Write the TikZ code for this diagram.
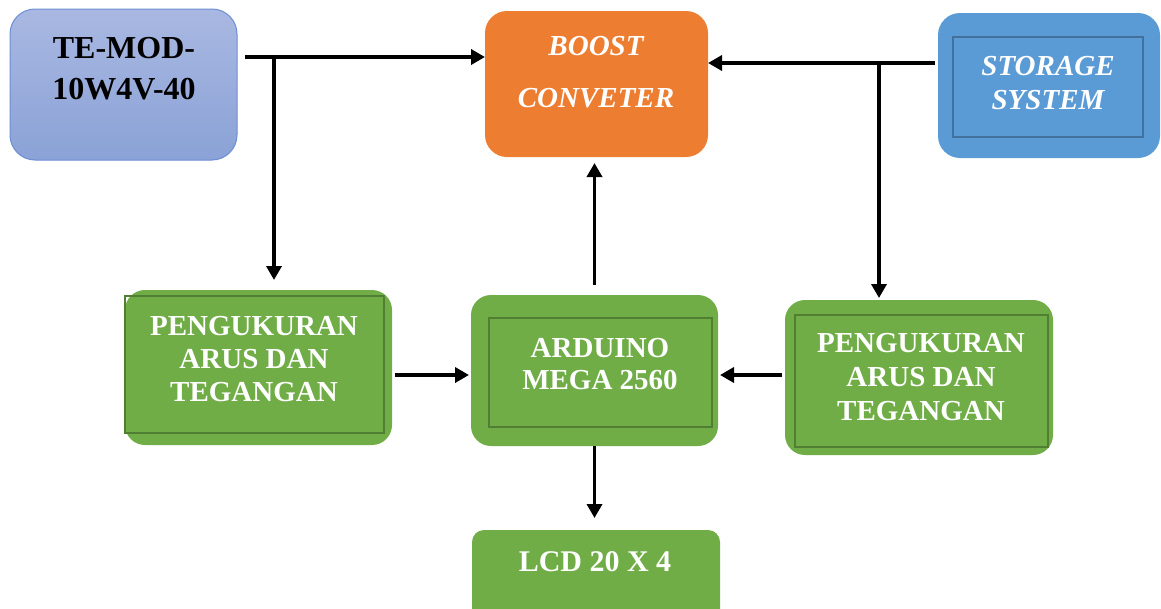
\documentclass[tikz,border=0pt]{standalone}
\usepackage{fontspec}
\setmainfont{Liberation Serif}
\usetikzlibrary{arrows.meta}
\definecolor{pvtop}{HTML}{A9B8E2}
\definecolor{pvbottom}{HTML}{8AA2D6}
\definecolor{pvline}{HTML}{6C8ED3}
\definecolor{boostorange}{HTML}{ED7D31}
\definecolor{storeblue}{HTML}{5B9BD5}
\definecolor{storeline}{HTML}{41719C}
\definecolor{ctrlgreen}{HTML}{70AD47}
\definecolor{ctrlline}{HTML}{507E32}
\tikzset{outerbox/.style={rounded corners=20pt, inner sep=0pt, outer sep=0pt},
innerbox/.style={draw=ctrlline, line width=2pt, inner sep=0pt},
%white bold caption, 29pt
lbl/.style={font=\fontsize{29}{33}\selectfont\bfseries, text=white, align=center},
arr/.style={line width=3.6pt, -{Triangle[length=14pt,width=15pt]}}}

\begin{document}
\begin{tikzpicture}[x=1pt,y=-1pt]
\useasboundingbox (0,0) rectangle (1161,608);
% top row
\node[outerbox, rounded corners=25pt, top color=pvtop, bottom color=pvbottom, draw=pvline, line width=1pt, minimum width=227pt, minimum height=151pt] (temod) at (123.5,84.5) {};
\node[lbl, text=black, font=\fontsize{32}{41}\selectfont\bfseries] (temodtxt) at (124,68.5) {TE-MOD-\\10W4V-40};

\node[outerbox, rounded corners=22pt, fill=boostorange, minimum width=223pt, minimum height=146pt] (boost) at (596.5,84) {};
\node[lbl, font=\fontsize{29}{33}\selectfont\bfseries\itshape] (boosttxt) at (596,72) {BOOST\\[19pt]CONVETER};

\node[outerbox, rounded corners=22pt, fill=storeblue, minimum width=222pt, minimum height=145pt] (storeouter) at (1049,85.5) {};
\node[innerbox, draw=storeline, minimum width=190pt, minimum height=100pt] (store) at (1048,87) {};
\node[lbl, font=\fontsize{29}{34}\selectfont\bfseries\itshape] (storetxt) at (1048,83) {STORAGE\\SYSTEM};

% middle row
\node[outerbox, fill=ctrlgreen, minimum width=267pt, minimum height=155pt] (pengL) at (258.5,367.5) {};
\node[innerbox, minimum width=259pt, minimum height=137pt] (pengLin) at (254.5,364.5) {};
\node[lbl] (pengLtxt) at (254,359) {PENGUKURAN\\ARUS DAN\\TEGANGAN};

\node[outerbox, fill=ctrlgreen, minimum width=247pt, minimum height=151pt] (ard) at (594.5,370.5) {};
\node[innerbox, minimum width=223pt, minimum height=109pt] (ardin) at (600.5,372.5) {};
\node[lbl, font=\fontsize{29}{32}\selectfont\bfseries] (ardtxt) at (600,364) {ARDUINO\\MEGA 2560};

\node[outerbox, fill=ctrlgreen, minimum width=268pt, minimum height=155pt] (pengR) at (919,377.5) {};
\node[innerbox, minimum width=253pt, minimum height=132pt] (pengRin) at (921.5,381) {};
\node[lbl, font=\fontsize{29}{34}\selectfont\bfseries] (pengRtxt) at (921,377) {PENGUKURAN\\ARUS DAN\\TEGANGAN};

% bottom
\node[outerbox, rounded corners=12pt, fill=ctrlgreen, minimum width=248pt, minimum height=100pt] (lcd) at (596,580) {};
\node[lbl, font=\fontsize{30}{34}\selectfont\bfseries] (lcdtxt) at (595,562) {LCD 20 X 4};

% arrows
\coordinate (pvsplit) at (274,57);
\coordinate (stsplit) at (879,63);
\draw[arr] ([xshift=8pt]temod.east |- pvsplit) -- (boost.west |- pvsplit);
\draw[arr] (pvsplit) -- ([yshift=10pt]pvsplit |- pengL.north);
\draw[arr] ([xshift=-3pt]storeouter.west |- stsplit) -- (boost.east |- stsplit);
\draw[arr] (stsplit) -- ([yshift=2pt]stsplit |- pengR.north);
\draw[arr] ([yshift=10pt]ard.north) -- ([yshift=-6pt]ard.north |- boost.south);
\draw[arr] ([xshift=3pt,yshift=-7.5pt]pengL.east) -- ([xshift=-2pt,yshift=-4.5pt]ard.west);
\draw[arr] ([xshift=-3pt,yshift=2.5pt]pengR.west) -- ([xshift=2pt,yshift=-4.5pt]ard.east);
\draw[arr] (ard.south) -- ([yshift=12pt]ard.south |- lcd.north);
\end{tikzpicture}
\end{document}
